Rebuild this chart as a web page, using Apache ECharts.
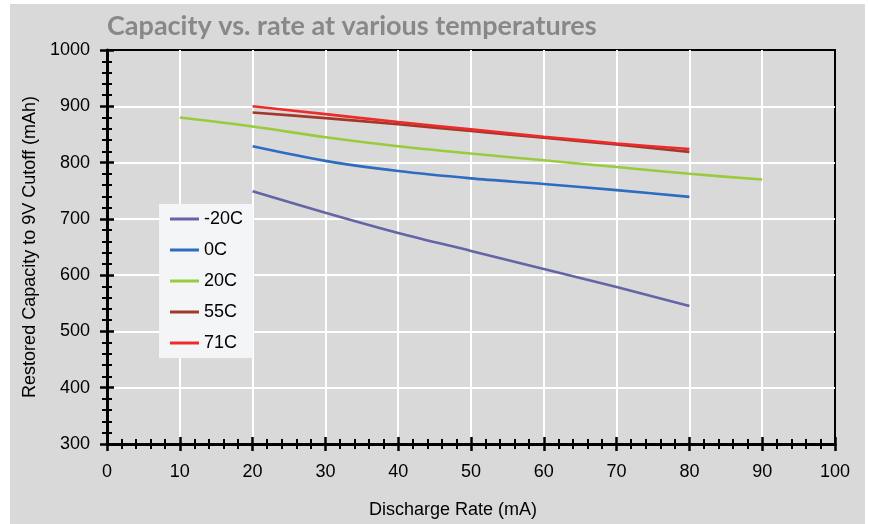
<!DOCTYPE html>
<html>
<head>
<meta charset="utf-8">
<script src="https://cdn.jsdelivr.net/npm/echarts@6/dist/echarts.min.js"></script>
<style>
  html, body { margin: 0; padding: 0; background: #ffffff; }
  #bg { position: absolute; left: 10px; top: 4px; width: 855px; height: 520px; background: #d9d9d9; }
  #chart { position: absolute; left: 0; top: 0; width: 869px; height: 524px; }
</style>
</head>
<body>
<div id="bg"></div>
<div id="chart"></div>
<script>
// ---- data ----
const titleText = 'Capacity vs. rate at various temperatures';
const xAxisName = 'Discharge Rate (mA)';
const yAxisName = 'Restored Capacity to 9V Cutoff (mAh)';
const seriesNames = ['-20C', '0C', '20C', '55C', '71C'];
const seriesColors = ['#6464a6', '#2d6cc0', '#9acb3c', '#a0392a', '#ee2a2a'];

const rates = [20, 30, 40, 50, 60, 70, 80];
const rates20C = [10, 20, 30, 40, 50, 60, 70, 80, 90];

const capMinus20C = [749, 711, 675, 643, 611, 579, 545];
const cap0C       = [829, 803, 785, 772, 762, 751, 739];
const cap20C      = [880, 864, 845, 829, 816, 804, 792, 780, 770];
const cap55C      = [889, 879, 868, 856, 844, 832, 819];
const cap71C      = [900, 886, 872, 859, 846, 834, 824];

const xTicks = { min: 0, max: 100, interval: 10 };
const yTicks = { min: 300, max: 1000, interval: 100 };

function pairs(xs, ys) { return xs.map((x, i) => [x, ys[i]]); }

const seriesData = [
  pairs(rates, capMinus20C),
  pairs(rates, cap0C),
  pairs(rates20C, cap20C),
  pairs(rates, cap55C),
  pairs(rates, cap71C)
];

const FONT = '"Liberation Sans", Arial, sans-serif';
const FS = 18;

const chart = echarts.init(document.getElementById('chart'));

function baseAxis(extra) {
  return Object.assign({
    type: 'value',
    axisLine: { show: true, onZero: false, lineStyle: { color: '#000', width: 3 } },
    axisTick: { show: true, inside: false, length: 7, lineStyle: { color: '#000', width: 2.5 } },
    minorTick: { show: true, splitNumber: 5, length: 5, lineStyle: { color: '#000', width: 2 } },
    splitLine: { show: true, showMinLine: false, showMaxLine: false, lineStyle: { color: '#ffffff', width: 2 } },
    minorSplitLine: { show: false }
  }, extra);
}

const option = {
  backgroundColor: 'transparent',
  animation: false,
  title: {
    text: titleText,
    left: 102,
    top: 8,
    textStyle: { fontFamily: 'Lato, "Open Sans", sans-serif', fontWeight: 'bold', fontSize: 27, color: '#888888' }
  },
  grid: {
    left: 107, right: 34, top: 50, bottom: 80,
    show: true, borderColor: '#000', borderWidth: 2, backgroundColor: 'transparent'
  },
  legend: {
    orient: 'vertical',
    left: 159,
    top: 204,
    padding: [6, 10, 6, 11],
    backgroundColor: '#f4f5f7',
    itemWidth: 29,
    itemHeight: 3,
    itemGap: 13,
    icon: 'rect',
    textStyle: { fontFamily: FONT, fontSize: FS, color: '#000' },
    data: seriesNames
  },
  xAxis: [
    baseAxis({
      min: xTicks.min, max: xTicks.max, interval: xTicks.interval,
      position: 'bottom',
      name: xAxisName,
      nameLocation: 'middle',
      nameGap: 57,
      nameTextStyle: { fontFamily: FONT, fontSize: FS, color: '#000', padding: [0, 36, 0, 0] },
      axisLabel: { fontFamily: FONT, fontSize: FS, color: '#000', margin: 19 }
    }),
    baseAxis({
      min: xTicks.min, max: xTicks.max, interval: xTicks.interval,
      position: 'bottom',
      axisLine: { show: false },
      axisTick: { show: true, inside: true, length: 7, lineStyle: { color: '#000', width: 2.5 } },
      minorTick: { show: true, splitNumber: 5, length: 5, lineStyle: { color: '#000', width: 2 } },
      splitLine: { show: false },
      axisLabel: { show: false }
    })
  ],
  yAxis: [
    baseAxis({
      min: yTicks.min, max: yTicks.max, interval: yTicks.interval,
      position: 'left',
      name: yAxisName,
      nameLocation: 'middle',
      nameGap: 65,
      nameTextStyle: { fontFamily: FONT, fontSize: FS, color: '#000' },
      axisLabel: { fontFamily: FONT, fontSize: FS, color: '#000', margin: 17, formatter: v => String(v) }
    }),
    baseAxis({
      min: yTicks.min, max: yTicks.max, interval: yTicks.interval,
      position: 'left',
      axisLine: { show: false },
      axisTick: { show: true, inside: true, length: 7, lineStyle: { color: '#000', width: 2.5 } },
      minorTick: { show: true, splitNumber: 5, length: 5, lineStyle: { color: '#000', width: 2 } },
      splitLine: { show: false },
      axisLabel: { show: false }
    })
  ],
  series: seriesNames.map((name, i) => ({
    name: name,
    type: 'line',
    xAxisIndex: 0,
    yAxisIndex: 0,
    data: seriesData[i],
    smooth: 0.3,
    showSymbol: false,
    symbol: 'none',
    color: seriesColors[i],
    lineStyle: { color: seriesColors[i], width: 2.6 },
    z: 1
  }))
};

chart.setOption(option);
</script>
</body>
</html>
